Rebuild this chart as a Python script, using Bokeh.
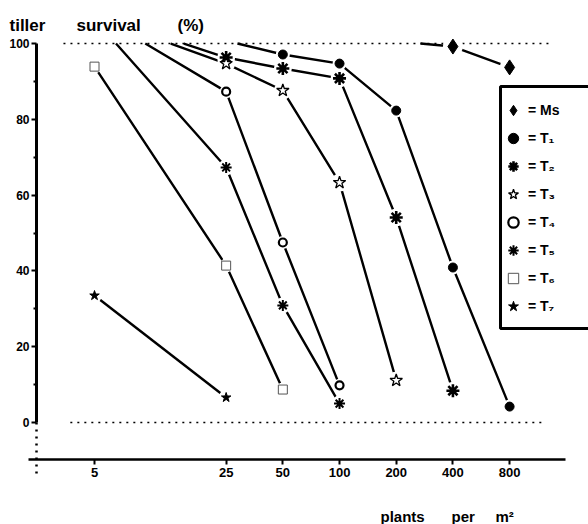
from bokeh.plotting import figure
from bokeh.models import (Range1d, LinearAxis, LogAxis, FixedTicker, Legend,
                          LegendItem, Label, BasicTickFormatter, BoxAnnotation)
from bokeh.embed import file_html
from bokeh.resources import INLINE

# ---------------- data ----------------
x_ticks = [5, 25, 50, 100, 200, 400, 800]
x_tick_labels = ["5", "25", "50", "100", "200", "400", "800"]
y_ticks = [0, 20, 40, 60, 80, 100]
y_minor_ticks = [10, 30, 50, 70, 90]
y_tick_labels = ["0", "20", "40", "60", "80", "100"]

# density at which each curve leaves the 100 % line (None = no such segment)
ms_x = [400, 800]
ms_y = [99.2, 93.7]
ms_start = 269

t1_x = [50, 100, 200, 400, 800]
t1_y = [97.1, 94.7, 82.3, 40.9, 4.2]
t1_start = 28.7

t2_x = [25, 50, 100, 200, 400]
t2_y = [96.3, 93.4, 90.8, 54.1, 8.4]
t2_start = 14.9

t3_x = [25, 50, 100, 200]
t3_y = [94.7, 87.6, 63.3, 11.1]
t3_start = 12.7

t4_x = [25, 50, 100]
t4_y = [87.3, 47.5, 9.8]
t4_start = 9.3

t5_x = [25, 50, 100]
t5_y = [67.3, 30.9, 5.0]
t5_start = 6.5

t6_x = [5, 25, 50]
t6_y = [93.9, 41.4, 8.7]
t6_start = None

t7_x = [5, 25]
t7_y = [33.5, 6.6]
t7_start = None

series_labels = ["= Ms", "= T\u2081", "= T\u2082", "= T\u2083", "= T\u2084",
                 "= T\u2085", "= T\u2086", "= T\u2087"]

series = [
    (ms_x, ms_y, ms_start),
    (t1_x, t1_y, t1_start),
    (t2_x, t2_y, t2_start),
    (t3_x, t3_y, t3_start),
    (t4_x, t4_y, t4_start),
    (t5_x, t5_y, t5_start),
    (t6_x, t6_y, t6_start),
    (t7_x, t7_y, t7_start),
]

styles = [
    dict(marker="diamond", size=15, fill_color="black", line_color="black", line_width=1),
    dict(marker="circle", size=9, fill_color="black", line_color="black", line_width=1),
    dict(marker="asterisk", size=13, line_color="black", line_width=2.6),
    dict(marker="star", size=13, fill_color="white", line_color="black", line_width=1.3),
    dict(marker="circle", size=8, fill_color="white", line_color="black", line_width=2.2),
    dict(marker="asterisk", size=11, line_color="black", line_width=2),
    dict(marker="square", size=9, fill_color="white", line_color="#555555", line_width=1),
    dict(marker="star", size=10, fill_color="black", line_color="black", line_width=1),
]

FONT = "Liberation Sans"

# ---------------- figure ----------------
p = figure(width=588, height=524, x_axis_type="log",
           x_range=Range1d(1.584, 2099), y_range=Range1d(-26.91, 111.35),
           x_axis_location=None, y_axis_location=None,
           toolbar_location=None, output_backend="svg", min_border=0)
p.outline_line_color = None
p.background_fill_color = "white"
p.grid.visible = False

# axes placed inside the frame
y_axis_at = 2.46
x_axis_at = -9.76

yaxis = LinearAxis(fixed_location=y_axis_at, bounds=(0, 100),
                   ticker=FixedTicker(ticks=y_ticks, minor_ticks=y_minor_ticks),
                   major_label_overrides=dict(zip(y_ticks, y_tick_labels)))
yaxis.axis_line_width = 3
yaxis.major_tick_in = 0
yaxis.major_tick_out = 5
yaxis.major_tick_line_width = 2
yaxis.minor_tick_in = 0
yaxis.minor_tick_out = 3
yaxis.minor_tick_line_width = 2
yaxis.major_label_standoff = 2
yaxis.major_label_text_font = FONT
yaxis.major_label_text_font_style = "bold"
yaxis.major_label_text_font_size = "12px"
yaxis.major_label_text_color = "black"
p.add_layout(yaxis, "left")

xaxis = LogAxis(fixed_location=x_axis_at, bounds=(2.23, 1585),
                ticker=FixedTicker(ticks=x_ticks, minor_ticks=[]),
                formatter=BasicTickFormatter(),
                major_label_overrides=dict(zip(x_ticks, x_tick_labels)))
xaxis.axis_line_width = 2.5
xaxis.major_tick_in = 0
xaxis.major_tick_out = 5
xaxis.major_tick_line_width = 2
xaxis.minor_tick_line_color = None
xaxis.major_label_standoff = 3
xaxis.major_label_text_font = FONT
xaxis.major_label_text_font_style = "bold"
xaxis.major_label_text_font_size = "13px"
xaxis.major_label_text_color = "black"
p.add_layout(xaxis, "below")

# dotted reference lines (100 % and 0 %) and dotted axis extension
p.segment(x0=[3.42, 3.72], y0=[100, 0], x1=[1352, 1240], y1=[100, 0],
          line_color="black", line_width=1.6, line_dash="2 5")
p.line(x=[y_axis_at, y_axis_at], y=[0, -14.0], line_color="black",
       line_width=2.5, line_dash="2 5")

# curves
for (xs, ys, start) in series:
    lx = ([start] if start is not None else []) + list(xs)
    ly = ([100] if start is not None else []) + list(ys)
    p.line(x=lx, y=ly, line_color="black", line_width=2.4)

# white halos to leave gaps between lines and markers
for (xs, ys, start), st in zip(series, styles):
    p.scatter(x=xs, y=ys, marker="circle", size=st["size"] + 5,
              fill_color="white", line_color=None)

renderers = []
for (xs, ys, start), st in zip(series, styles):
    r = p.scatter(x=xs, y=ys, **st)
    renderers.append(r)

# legend frame (runs off the right edge like the original)
legend_box = BoxAnnotation(left=500, right=640, top=86, bottom=328,
                           left_units="canvas", right_units="canvas",
                           top_units="canvas", bottom_units="canvas",
                           fill_color="white", fill_alpha=1.0,
                           line_color="black", line_alpha=1.0, line_width=3)
p.add_layout(legend_box)

legend = Legend(items=[LegendItem(label=lab, renderers=[r])
                       for lab, r in zip(series_labels, renderers)],
                location=(500, 205))
legend.border_line_color = None
legend.background_fill_alpha = 0
legend.padding = 10
legend.spacing = 2
legend.margin = 0
legend.glyph_width = 26
legend.glyph_height = 26
legend.label_height = 26
legend.label_standoff = 2
legend.label_text_font = FONT
legend.label_text_font_style = "bold"
legend.label_text_font_size = "14px"
legend.label_text_color = "black"
p.add_layout(legend)

# titles
for word, x in [("tiller", 9), ("survival", 76), ("(%)", 177)]:
    p.add_layout(Label(x=x, y=499, x_units="screen", y_units="screen", text=word,
                       text_font=FONT, text_font_style="bold", text_font_size="17px",
                       text_color="black", text_baseline="alphabetic"))

for word, x in [("plants", 380), ("per", 451), ("m\u00b2", 495)]:
    p.add_layout(Label(x=x, y=8, x_units="screen", y_units="screen", text=word,
                       text_font=FONT, text_font_style="bold", text_font_size="15px",
                       text_color="black", text_baseline="alphabetic"))

open("out.html", "w").write(file_html(p, INLINE))
